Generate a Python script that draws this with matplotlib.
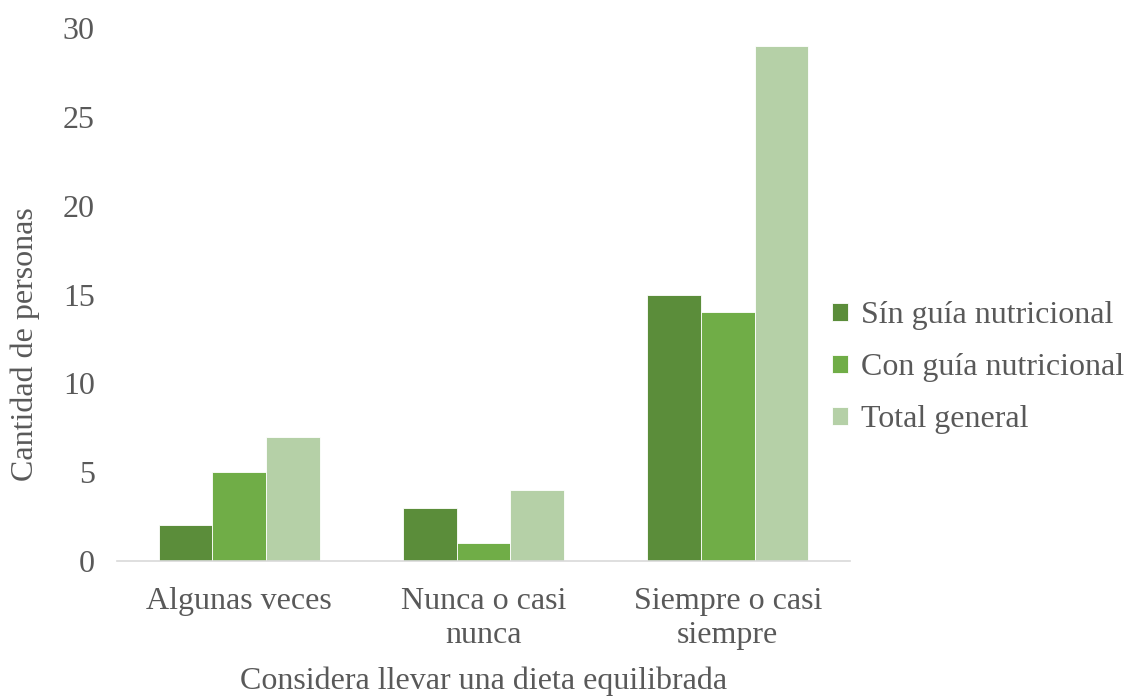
import numpy as np
from matplotlib import pyplot as plt

plt.rcParams['font.family'] = ['Liberation Serif', 'DejaVu Serif']

# --- Datos ---
categorias = ['Algunas veces', 'Nunca o casi\nnunca', 'Siempre o casi\nsiempre']
sin_guia = [2, 3, 15]
con_guia = [5, 1, 14]
total = [7, 4, 29]
series = ['Sín guía nutricional', 'Con guía nutricional', 'Total general']

colores = ['#5B8D3A', '#70AD47', '#B5D0A7']
gris = '#595959'
tam = 23

fig = plt.figure(figsize=(11.25, 6.96), dpi=100)
ax = fig.add_axes([117 / 1125, 1 - 561 / 696, 733 / 1125, 533 / 696])

x = np.arange(len(categorias))
ancho = 0.22
for i, (valores, nombre) in enumerate(zip([sin_guia, con_guia, total], series)):
    ax.bar(x + (i - 1) * ancho, valores, ancho, color=colores[i], label=nombre,
           edgecolor='white', linewidth=0.6)

ax.set_xlim(-0.5, len(categorias) - 0.5)
ax.set_ylim(0, 30)
ax.set_yticks(range(0, 31, 5))
ax.set_xticks(x)
ax.set_xticklabels(categorias, linespacing=1.2)

for s in ['top', 'right', 'left']:
    ax.spines[s].set_visible(False)
ax.spines['bottom'].set_color('#D9D9D9')
ax.spines['bottom'].set_linewidth(1.2)

ax.tick_params(axis='both', length=0, labelsize=tam, colors=gris)
ax.tick_params(axis='y', pad=16)
ax.tick_params(axis='x', pad=19)

fig.text(484 / 1125, 1 - 681 / 696, 'Considera llevar una dieta equilibrada',
         fontsize=tam, color=gris, ha='center', va='center')
fig.text(25 / 1125, 1 - 344 / 696, 'Cantidad de personas', rotation=90,
         fontsize=tam, color=gris, ha='center', va='center')

fig.legend(loc='center left', bbox_to_anchor=(832 / 1125, 1 - 368 / 696), frameon=False,
           fontsize=tam, labelcolor=gris, handlelength=0.5, handleheight=0.5,
           handletextpad=0.4, labelspacing=0.72, borderaxespad=0, borderpad=0)

plt.savefig('out.png', dpi=100)
